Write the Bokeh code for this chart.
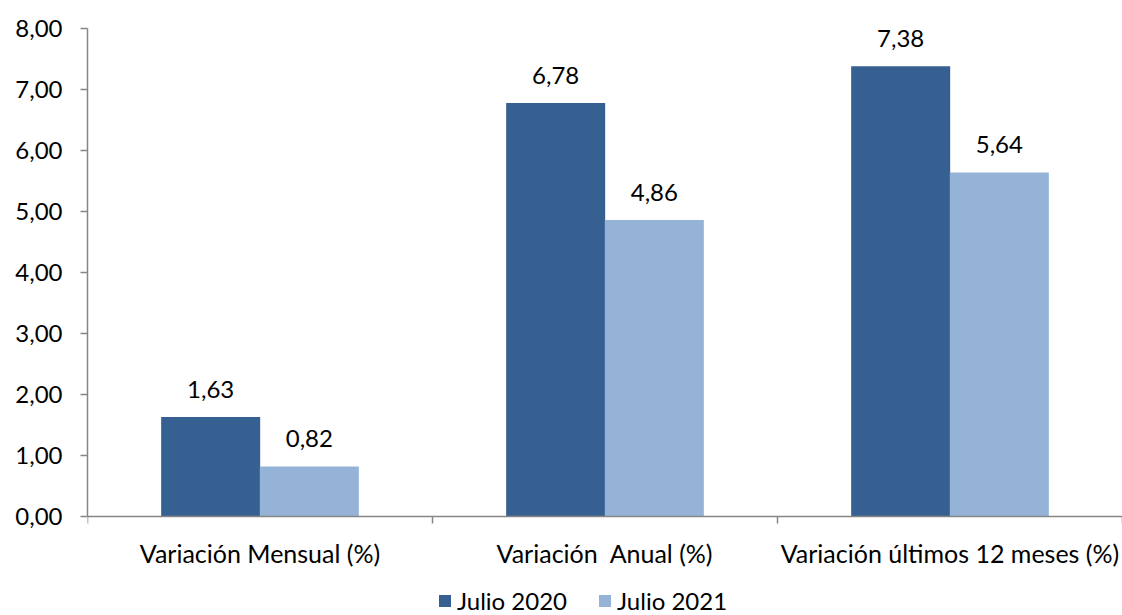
from bokeh.plotting import figure
from bokeh.models import (ColumnDataSource, FixedTicker, Range1d, Legend, LegendItem, LabelSet)
from bokeh.core.properties import value
from bokeh.embed import file_html
from bokeh.resources import INLINE

categories = ["Variación Mensual (%)", "Variación\u00a0 Anual (%)", "Variación últimos 12 meses (%)"]
julio_2020 = [1.63, 6.78, 7.38]
julio_2021 = [0.82, 4.86, 5.64]
series_names = ["Julio 2020", "Julio 2021"]
y_ticks = [0, 1, 2, 3, 4, 5, 6, 7, 8]

FONT = "Lato"
DARK = "#376092"
LIGHT = "#95B3D7"
AXIS = "#868686"
BAR_W = 0.287
OFF = 0.143

# layout: data area 488 px tall (0..8), extra 99 px below for axis labels and legend
Y_MAX = 8
DATA_PX = 488
EXTRA_PX = 99
y_start = -Y_MAX * EXTRA_PX / DATA_PX

centers = [i + 0.5 for i in range(len(categories))]
src1 = ColumnDataSource(dict(x=[c - OFF for c in centers], top=julio_2020,
                             lab=[f"{v:.2f}".replace(".", ",") for v in julio_2020]))
src2 = ColumnDataSource(dict(x=[c + OFF for c in centers], top=julio_2021,
                             lab=[f"{v:.2f}".replace(".", ",") for v in julio_2021]))

p = figure(frame_width=1035, frame_height=DATA_PX + EXTRA_PX, output_backend="svg",
           toolbar_location=None,
           x_range=Range1d(0, len(categories)), y_range=Range1d(y_start, Y_MAX),
           min_border_left=87, min_border_right=0, min_border_top=28,
           min_border_bottom=0)
p.outline_line_color = None
p.xgrid.grid_line_color = None
p.ygrid.grid_line_color = None

r1 = p.vbar(x="x", top="top", bottom=0, width=BAR_W, source=src1, fill_color=DARK, line_color=None)
r2 = p.vbar(x="x", top="top", bottom=0, width=BAR_W, source=src2, fill_color=LIGHT, line_color=None)

for s in (src1, src2):
    p.add_layout(LabelSet(x="x", y="top", text="lab", source=s, text_align="center",
                          text_baseline="bottom", y_offset=19, text_font=value(FONT),
                          text_font_size=value("24px"), text_color="#000000"))

# x axis, drawn at y = 0
xa = p.xaxis[0]
xa.fixed_location = 0
xa.ticker = FixedTicker(ticks=centers, minor_ticks=list(range(len(categories) + 1)))
xa.major_label_overrides = {c: categories[i] for i, c in enumerate(centers)}
xa.major_tick_line_color = None
xa.major_tick_out = 0
xa.major_tick_in = 0
xa.minor_tick_out = 7
xa.minor_tick_in = 0
xa.minor_tick_line_color = AXIS
xa.minor_tick_line_width = 1.5
xa.axis_line_color = AXIS
xa.axis_line_width = 1.5
xa.major_label_standoff = 14
xa.major_label_text_font = FONT
xa.major_label_text_font_size = "25px"
xa.major_label_text_color = "#000000"

ya = p.yaxis[0]
ya.ticker = FixedTicker(ticks=y_ticks)
ya.bounds = (0, Y_MAX)
ya.major_label_overrides = {t: f"{t},00" for t in y_ticks}
ya.minor_tick_line_color = None
ya.major_tick_out = 7
ya.major_tick_in = 0
ya.major_tick_line_color = AXIS
ya.major_tick_line_width = 1.5
ya.axis_line_color = AXIS
ya.axis_line_width = 1.5
ya.major_label_standoff = 18
ya.major_label_text_font = FONT
ya.major_label_text_font_size = "24px"
ya.major_label_text_color = "#000000"

legend = Legend(items=[LegendItem(label=series_names[0], renderers=[r1]),
                       LegendItem(label=series_names[1], renderers=[r2])],
                orientation="horizontal", location=(350, 0),
                label_text_font=FONT, label_text_font_size="24px",
                label_text_color="#000000",
                glyph_width=15, glyph_height=15, label_standoff=5, spacing=30,
                border_line_color=None, background_fill_alpha=0,
                padding=0, margin=0)
p.add_layout(legend, "center")

open("out.html", "w").write(file_html(p, INLINE))
